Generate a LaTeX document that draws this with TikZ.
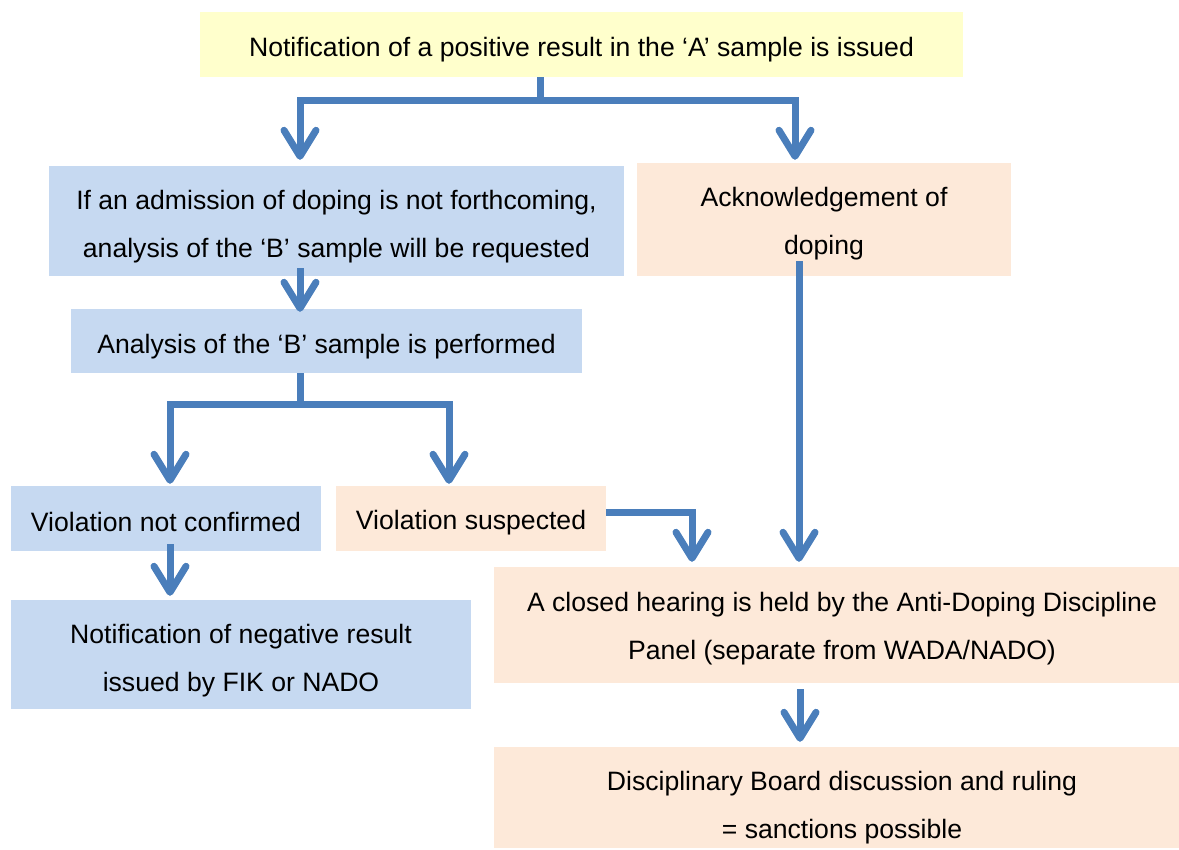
\documentclass[tikz,border=0pt]{standalone}
\usepackage{fontspec}
\setmainfont{Liberation Sans}
\usetikzlibrary{arrows.meta}

\definecolor{flowblue}{HTML}{4A7EBB}
\definecolor{boxblue}{HTML}{C6D9F1}
\definecolor{boxpeach}{HTML}{FDE9D9}
\definecolor{boxyellow}{HTML}{FFFFCC}

% raise the first line so the text sits a little lower in its box
\newcommand{\lift}[1][30pt]{\rule{0pt}{#1}}

\begin{document}
\begin{tikzpicture}[
    x=1pt, y=-1pt,
    every node/.style={font=\fontsize{26.6}{48}\selectfont, align=center, inner sep=0pt},
    bluebox/.style={fill=boxblue},
    peachbox/.style={fill=boxpeach},
    yellowbox/.style={fill=boxyellow},
    flow/.style={draw=flowblue, line width=7pt,
        -{Straight Barb[length=26pt, width=32pt, round]}},
    ]
    \useasboundingbox (0,0) rectangle (1179,850);

    \node [yellowbox, minimum width=763pt, minimum height=65pt] (notice) at (581.5,44.5)
        {\lift Notification of a positive result in the ‘A’ sample is issued}; % root
    \node [bluebox, minimum width=575pt, minimum height=110pt] (request) at (336.5,221)
        {\lift[31.5pt]If an admission of doping is not forthcoming,\\analysis of the ‘B’ sample will be requested};
    \node [peachbox, minimum width=374pt, minimum height=113pt] (admit) at (824,219.5)
        {\lift[27.5pt]Acknowledgement of\\doping};
    \node [bluebox, minimum width=511pt, minimum height=64pt] (analysis) at (326.5,341)
        {\lift Analysis of the ‘B’ sample is performed};
    \node [bluebox, minimum width=310pt, minimum height=65pt] (cleared) at (166,518.5)
        {\lift[26.5pt]Violation not confirmed};
    \node [peachbox, minimum width=270pt, minimum height=65pt] (suspect) at (471,518.5)
        {\lift[27pt]Violation suspected};
    \node [bluebox, minimum width=460pt, minimum height=109pt] (negative) at (241,654.5)
        {\lift[31.5pt]Notification of negative result\\issued by FIK or NADO};
    \node [peachbox, minimum width=696pt, minimum height=116pt] (hearing) at (842,625)
        {\lift[27.5pt]A closed hearing is held by the Anti-Doping Discipline\\Panel (separate from WADA/NADO)};
    \node [peachbox, minimum width=696pt, minimum height=101pt] (ruling) at (842,797.5)
        {\lift[39.5pt]Disciplinary Board discussion and ruling\\= sanctions possible};

    % forks and turning points
    \coordinate (forkA) at (540,101);
    \coordinate (forkB) at (300,405);
    \coordinate (turnC) at (692,512);

    \draw [flow, shorten >=6pt] (notice.south -| forkA) -- (forkA) -| (request.north -| forkB);
    \draw [flow, shorten >=3pt] (forkA) -| (admit.north -| 795,0);
    \draw [flow, shorten >=-3pt] ([yshift=8pt]request.south -| forkB) -- (analysis.north -| forkB);
    \draw [flow, shorten >=2pt] (analysis.south -| forkB) -- (forkB) -| (cleared.north -| 170,0);
    \draw [flow, shorten >=2pt] (forkB) -| (suspect.north -| 449,0);
    \draw [flow, shorten >=4pt] ([yshift=7pt]cleared.south -| 170,0) -- (negative.north -| 170,0);
    \draw [flow, shorten >=5pt] (suspect.east |- turnC) -- (turnC) -- (hearing.north -| turnC);
    \draw [flow, shorten >=5pt] ([yshift=15pt]admit.south -| 799,0) -- (hearing.north -| 799,0);
    \draw [flow, shorten >=5pt] ([yshift=-6pt]hearing.south -| 800,0) -- (ruling.north -| 800,0);
\end{tikzpicture}
\end{document}
